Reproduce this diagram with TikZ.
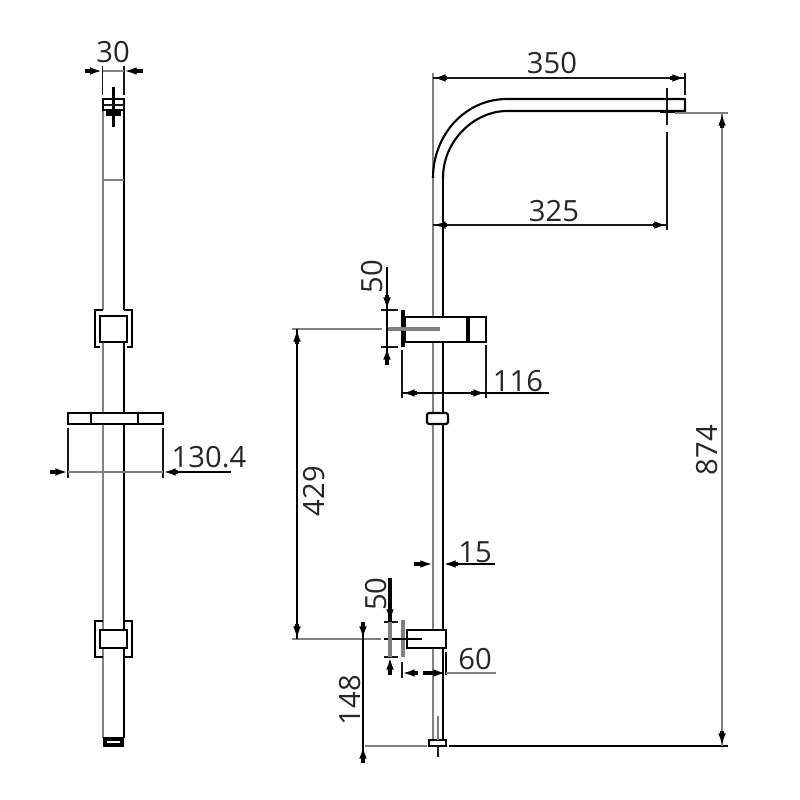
\documentclass[tikz,border=0pt]{standalone}
\usepackage{fontspec}
\setmainfont{Open Sans}
\usetikzlibrary{arrows.meta}
\definecolor{dimgrey}{gray}{0.5}
\tikzset{
	part/.style={draw=black,line width=0.6pt},
	greyline/.style={draw=dimgrey,line width=0.8pt},
	dimline/.style={draw=black!90,line width=0.42pt},
	tip/.style={-{Latex[length=3.6pt,width=2.2pt]},draw=black,line width=0.9pt},
	dimtext/.style={font=\fontsize{8.3pt}{10pt}\selectfont,text=black!85,inner sep=0pt},
	vdimtext/.style={dimtext,rotate=90}
}
\begin{document}
\begin{tikzpicture}[x=0.01cm,y=-0.01cm]
	\useasboundingbox (0,0) rectangle (800,800);

	% Vista di fronte
	\draw[greyline] (103,110) -- (103,310);
	\draw[part] (124,110) -- (124,310);
	\draw[greyline] (103,342) -- (103,630);
	\draw[part] (124,342) -- (124,630);
	\draw[greyline] (103,648) -- (103,738);
	\draw[part] (124,648) -- (124,738);
	\draw[part] (103,99) rectangle (124,110);
	\fill (106,110) rectangle (121,116);
	\draw[part] (113.5,87) -- (113.5,127);
	\draw[dimline] (103,105) -- (124,105);
	\draw[greyline] (103,180) -- (124,180);
	\draw[part,fill=white] (100,316) rectangle (127,342);
	\draw[part] (103,310) -- (95,310) -- (95,347) -- (100,347);
	\draw[part] (124,310) -- (132,310) -- (132,347) -- (127,347);
	\draw[part,fill=white] (68,413) rectangle (163,424);
	\draw[part] (91,413) -- (91,424) (138,413) -- (138,424);
	\draw[part,fill=white] (100,630) rectangle (127,648);
	\draw[part] (103,621) -- (95,621) -- (95,657) -- (103,657);
	\draw[part] (124,621) -- (132,621) -- (132,657) -- (124,657);
	\draw[part] (103,738) -- (124,738);
	\draw[part,line width=0.9pt] (105,739) rectangle (122,745);

	% Quota 30
	\node[dimtext] (lab30) at (113,52) {30};
	\draw[dimline] (102.5,66) -- (102.5,95) (124,66) -- (124,95);
	\draw[greyline] (102.5,71) -- (124,71);
	\draw[tip] (85,71) -- (102.5,71);
	\draw[tip] (143,71) -- (124,71);

	% Quota 130.4
	\node[dimtext] (lab130) at (209,457) {130.4};
	\draw[dimline] (68,428) -- (68,478) (163,428) -- (163,478);
	\draw[greyline] (68,472) -- (163,472);
	\draw[tip] (50,472) -- (68,472);
	\draw[tip] (178,472) -- (163,472);
	\draw[part,line width=0.8pt] (178,472) -- (231,472);

	% Vista laterale
	\draw[greyline] (433,73) -- (433,175);
	\draw[part] (433,178) .. controls (433,135) and (465,99) .. (507,99) -- (685,99) -- (685,111) -- (507,111) .. controls (475,111) and (443,140) .. (443,178);
	\draw[greyline] (433,178) -- (433,317);
	\draw[part] (443,178) -- (443,317);
	\draw[greyline] (433,342) -- (433,630);
	\draw[part] (443,342) -- (443,630);
	\draw[greyline] (433,648) -- (433,740);
	\draw[part] (443,648) -- (443,740);
	\draw[part,fill=white,rounded corners=0.6pt] (427,413) rectangle (448,424);
	\draw[part,fill=white] (429,740) rectangle (446,746);
	\draw[greyline] (438,716) -- (438,740);
	\draw[dimline] (438,746) -- (438,757);

	% Attacco superiore
	\draw[part,fill=white] (405,317) rectangle (486,342);
	\draw[part,line width=1pt] (468,317) -- (468,342);
	\draw[part,line width=1.2pt] (403,310) -- (403,347);
	\draw[greyline,line width=1.1pt] (387,329) -- (440,329);

	% Attacco inferiore
	\draw[part,fill=white] (407,630) rectangle (446,648);
	\draw[greyline,line width=1.2pt] (403,620) -- (403,657);
	\draw[part] (384,639) -- (422,639);

	% Quota 350
	\node[dimtext] (lab350) at (552,63) {350};
	\draw[dimline] (433,78) -- (685,78);
	\draw[tip] (447,78) -- (433,78);
	\draw[tip] (670,78) -- (685,78);
	\draw[dimline] (685,73) -- (685,95);

	% Quota 325
	\node[dimtext] (lab325) at (554,211) {325};
	\draw[dimline] (667,88) -- (667,125) (667,132) -- (667,230);
	\draw[dimline] (433,225) -- (667,225);
	\draw[tip] (447,225) -- (433,225);
	\draw[tip] (653,225) -- (667,225);
	\fill (660,109.5) rectangle (675,113);

	% Quota 874
	\node[vdimtext] (lab874) at (707,450) {874};
	\draw[greyline] (675,113) -- (728,113);
	\draw[part] (449,746) -- (728,746);
	\draw[greyline] (722,113) -- (722,746);
	\draw[tip] (722,128) -- (722,113);
	\draw[tip] (722,731) -- (722,746);

	% Quota 429
	\node[vdimtext] (lab429) at (314,491) {429};
	\draw[greyline] (292,329) -- (382,329);
	\draw[greyline] (292,639) -- (381,639);
	\draw[part] (297,329) -- (297,639);
	\draw[tip] (297,344) -- (297,329);
	\draw[tip] (297,624) -- (297,639);

	% Quote 50
	\node[vdimtext] (lab50a) at (372,277) {50};
	\draw[dimline] (381,310) -- (398,310) (381,347) -- (398,347);
	\draw[part] (387,267) -- (387,365);
	\draw[tip] (387,295) -- (387,310);
	\draw[tip] (387,365) -- (387,347);
	\node[vdimtext] (lab50b) at (376,594) {50};
	\draw[dimline] (384,622) -- (398,622) (384,657) -- (398,657);
	\draw[greyline,line width=1.1pt] (390,622) -- (390,657);
	\draw[part,line width=1pt] (390,578) -- (390,622);
	\draw[tip] (390,607) -- (390,622);
	\draw[tip] (390,675) -- (390,657);

	% Quota 116
	\node[dimtext] (lab116) at (518,381) {116};
	\draw[dimline] (402,350) -- (402,398) (486,345) -- (486,398);
	\draw[part] (402,393) -- (549,393);
	\draw[tip] (417,393) -- (402,393);
	\draw[tip] (471,393) -- (486,393);

	% Quota 15
	\node[dimtext] (lab15) at (475,552) {15};
	\draw[tip] (414,564) -- (433,564);
	\draw[tip] (458,564) -- (443,564);
	\draw[part] (458,564) -- (495,564);

	% Quota 60
	\node[dimtext] (lab60) at (475,659) {60};
	\draw[dimline] (402,662) -- (402,678);
	\draw[part] (446,652) -- (446,675);
	\draw[tip] (418,673) -- (402,673);
	\draw[tip] (423,673) -- (446,673);
	\draw[greyline] (446,673) -- (496,673);

	% Quota 148
	\node[vdimtext] (lab148) at (350,700) {148};
	\draw[part] (363,622) -- (363,763);
	\draw[tip] (363,622) -- (363,639);
	\draw[tip] (363,763) -- (363,746);
	\draw[greyline] (365,746) -- (427,746);
\end{tikzpicture}
\end{document}
